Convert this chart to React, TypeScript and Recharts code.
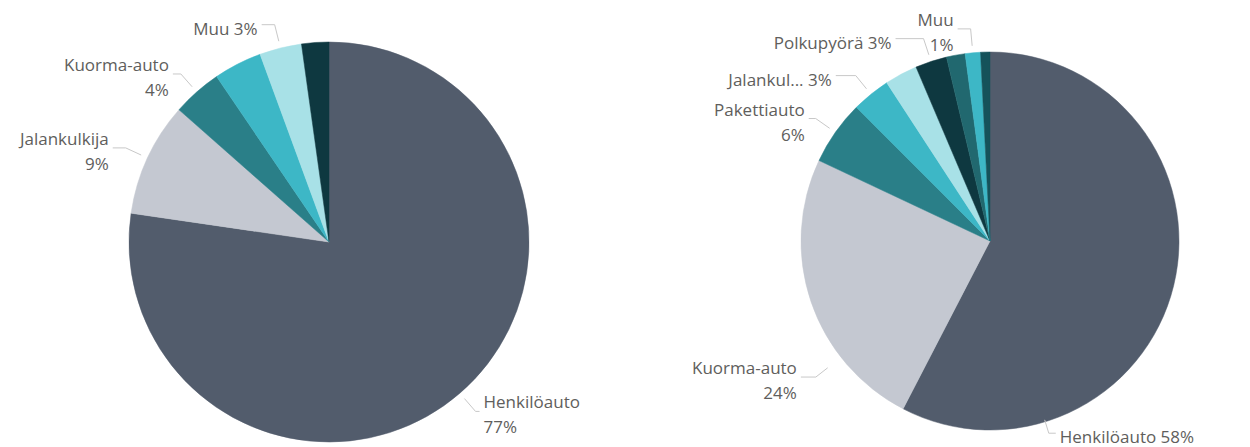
import React from "react";
import { PieChart, Pie, Cell } from "recharts";

// vehicle share, left chart
const leftNames = ["Henkilöauto", "Jalankulkija", "Kuorma-auto", "Pakettiauto", "Muu", "Polkupyörä"];
const leftValues = [77.3, 9.2, 4.0, 3.9, 3.4, 2.2];

// vehicle share, right chart
const rightNames = [
  "Henkilöauto",
  "Kuorma-auto",
  "Pakettiauto",
  "Jalankulkija",
  "Moottoripyörä",
  "Polkupyörä",
  "Mopo",
  "Muu",
  "Linja-auto",
];
const rightValues = [57.6, 24.4, 5.5, 3.3, 2.8, 2.7, 1.6, 1.3, 0.8];

const leftColors = ["#525C6C", "#C4C8D1", "#2A7F88", "#3DB7C6", "#A8E1E7", "#0E3840"];
const rightColors = [
  "#525C6C",
  "#C4C8D1",
  "#2A7F88",
  "#3DB7C6",
  "#A8E1E7",
  "#0E3840",
  "#21686F",
  "#3DB7C6",
  "#15525A",
];

interface LabelLayout {
  lines: 1 | 2;
  angle?: number; // leader angle, degrees clockwise from 12 o'clock
  start?: number;
  elbow?: number;
  tail?: number;
  maxChars?: number;
}

// which slices get a label, and how power bi laid them out
const leftLabels: Record<string, LabelLayout> = {
  "Henkilöauto": { lines: 2, tail: 4 },
  "Jalankulkija": { lines: 2, tail: 13 },
  "Kuorma-auto": { lines: 2, tail: 8 },
  "Muu": { lines: 1, tail: 13 },
};

const rightLabels: Record<string, LabelLayout> = {
  "Henkilöauto": { lines: 1, angle: 163, start: -2, elbow: 12, tail: 7 },
  "Kuorma-auto": { lines: 2, angle: 232, start: 17, elbow: 32, tail: 15 },
  "Pakettiauto": { lines: 2, tail: 7 },
  "Jalankulkija": { lines: 1, tail: 20, maxChars: 8 },
  "Polkupyörä": { lines: 1, tail: 28 },
  "Muu": { lines: 2, tail: 13 },
};

const FONT = "'Segoe UI', 'Open Sans', sans-serif";
const TEXT = "#605E5C";
const LEADER = "#C8C8C8";

const toRows = (names: string[], values: number[]) =>
  names.map((name, i) => ({ name, value: values[i] }));

const makeLabel = (layout: Record<string, LabelLayout>) => (props: any) => {
  const { cx, cy, midAngle, outerRadius, percent, name } = props;
  const opt = layout[name];
  if (!opt) return null;
  const deg = opt.angle ?? 90 - midAngle;
  const a = (deg * Math.PI) / 180;
  const r0 = outerRadius + (opt.start ?? 7);
  const r1 = outerRadius + (opt.elbow ?? 24);
  const x0 = cx + r0 * Math.sin(a);
  const y0 = cy - r0 * Math.cos(a);
  const x1 = cx + r1 * Math.sin(a);
  const y1 = cy - r1 * Math.cos(a);
  const dir = Math.sin(a) >= 0 ? 1 : -1;
  const x2 = x1 + dir * (opt.tail ?? 12);
  const tx = x2 + dir * 4;
  const anchor = dir > 0 ? "start" : "end";
  const pct = `${Math.round(percent * 100)}%`;
  const text =
    opt.maxChars && name.length > opt.maxChars ? name.slice(0, opt.maxChars) + "..." : name;

  return (
    <g>
      <polyline
        points={`${x0},${y0} ${x1},${y1} ${x2},${y1}`}
        fill="none"
        stroke={LEADER}
        strokeWidth={1}
      />
      {opt.lines === 2 ? (
        <text x={tx} y={y1 - 3} textAnchor={anchor} fill={TEXT} fontSize={17} fontFamily={FONT}>
          <tspan x={tx}>{text}</tspan>
          <tspan x={tx} dy={25}>
            {pct}
          </tspan>
        </text>
      ) : (
        <text x={tx} y={y1 + 10} textAnchor={anchor} fill={TEXT} fontSize={17} fontFamily={FONT}>
          {`${text} ${pct}`}
        </text>
      )}
    </g>
  );
};

export default function App() {
  const left = toRows(leftNames, leftValues);
  const right = toRows(rightNames, rightValues);

  return (
    <div style={{ position: "absolute", left: 0, top: 0, background: "#fff" }}>
      <PieChart width={1250} height={447} margin={{ top: 0, right: 0, bottom: 0, left: 0 }}>
        <Pie
          data={left}
          dataKey="value"
          nameKey="name"
          cx={329}
          cy={242}
          outerRadius={200}
          startAngle={90}
          endAngle={-270}
          labelLine={false}
          label={makeLabel(leftLabels)}
          isAnimationActive={false}
        >
          {left.map((d, i) => (
            <Cell key={d.name} fill={leftColors[i]} stroke={leftColors[i]} strokeWidth={0.5} />
          ))}
        </Pie>
        <Pie
          data={right}
          dataKey="value"
          nameKey="name"
          cx={990}
          cy={241}
          outerRadius={189}
          startAngle={90}
          endAngle={-270}
          labelLine={false}
          label={makeLabel(rightLabels)}
          isAnimationActive={false}
        >
          {right.map((d, i) => (
            <Cell key={d.name} fill={rightColors[i]} stroke={rightColors[i]} strokeWidth={0.5} />
          ))}
        </Pie>
      </PieChart>
    </div>
  );
}
